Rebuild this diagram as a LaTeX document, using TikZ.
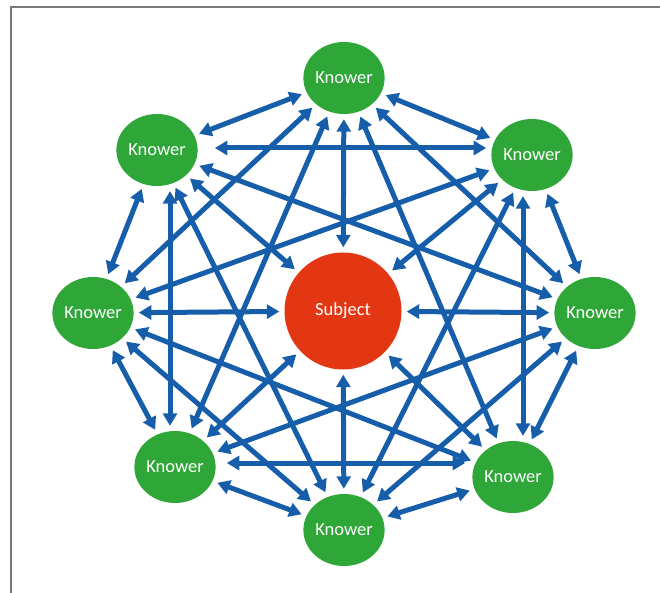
\documentclass[tikz,border=0pt]{standalone}
\usepackage{fontspec}
\setmainfont{Carlito}
\usetikzlibrary{arrows.meta,shapes.geometric}
\definecolor{linkblue}{RGB}{22,93,170}
\definecolor{knowgreen}{RGB}{46,166,56}
\definecolor{subjred}{RGB}{227,55,20}
\definecolor{framegray}{RGB}{120,120,120}
\begin{document}
\begin{tikzpicture}[x=1pt,y=-1pt,
  knower/.style={ellipse,fill=knowgreen,minimum width=80pt,minimum height=72pt,inner sep=0pt,text=white,font=\fontsize{18.5}{18.5}\selectfont},
  subject/.style={circle,fill=subjred,minimum size=117pt,inner sep=0pt,text=white,font=\fontsize{18.5}{18.5}\selectfont},
  link/.style={draw=linkblue,line width=5pt,{Triangle[length=12.5pt,width=14pt]}-{Triangle[length=12.5pt,width=14pt]},shorten >=5pt,shorten <=5pt}]
\useasboundingbox (0,0) rectangle (660,593);
\draw[framegray,line width=2pt] (10.5,593) -- (10.5,7.5) -- (660,7.5);
% nodes
\node[knower]  (T)  at (344,78)  {Knower};
\node[knower]  (UR) at (532,155) {Knower};
\node[knower]  (R)  at (595,313) {Knower};
\node[knower]  (LR) at (513,477) {Knower};
\node[knower]  (B)  at (344,530) {Knower};
\node[knower]  (LL) at (175,467) {Knower};
\node[knower]  (L)  at (93,313)  {Knower};
\node[knower]  (UL) at (157,150) {Knower};
\node[subject] (S)  at (343,311) {Subject};
% knower to knower (all pairs except opposite ones)
\foreach \a/\b in {T/UR,UR/R,R/LR,LR/B,B/LL,LL/L,L/UL,UL/T,
                   T/R,R/B,B/L,L/T,
                   T/LR,UR/B,R/LL,LR/L,B/UL,LL/T,L/UR,UL/R}
  \draw[link] (\a) -- (\b);
% the two horizontal and two vertical links
\draw[link] ([xshift=12pt,yshift=2pt]UL.east) -- ([yshift=7pt]UR.west);
\draw[link] ([xshift=6pt,yshift=4pt]LL.east) -- ([xshift=-2pt,yshift=14pt]LR.west);
\draw[link] ([xshift=13pt]UL.south) -- ([xshift=-5pt]LL.north);
\draw[link] ([xshift=-9pt]UR.south) -- ([xshift=10pt]LR.north);
% subject to every knower
\foreach \a in {T,UR,R,LR,B,LL,L,UL}
  \draw[link] (S) -- (\a);
\end{tikzpicture}
\end{document}
